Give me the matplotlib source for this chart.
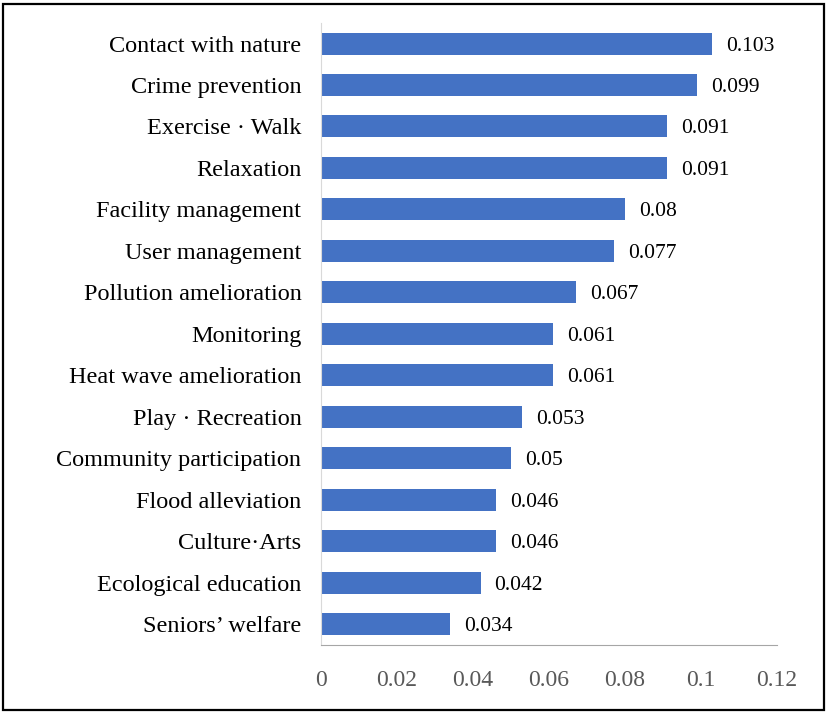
import matplotlib
matplotlib.use("Agg")
from matplotlib import pyplot as plt
from matplotlib.patches import Rectangle

categories = [
    "Contact with nature", "Crime prevention", "Exercise · Walk", "Relaxation",
    "Facility management", "User management", "Pollution amelioration",
    "Monitoring", "Heat wave amelioration", "Play · Recreation",
    "Community participation", "Flood alleviation", "Culture·Arts",
    "Ecological education", "Seniors’ welfare",
]
weights = [0.103, 0.099, 0.091, 0.091, 0.08, 0.077, 0.067, 0.061, 0.061,
           0.053, 0.05, 0.046, 0.046, 0.042, 0.034]
xticks = [0, 0.02, 0.04, 0.06, 0.08, 0.1, 0.12]
xticklabels = ["0", "0.02", "0.04", "0.06", "0.08", "0.1", "0.12"]

plt.rcParams["font.family"] = ["Liberation Serif", "DejaVu Serif"]

fig = plt.figure(figsize=(8.27, 7.14), dpi=100)
ax = fig.add_axes([0.388, 0.0966, 0.5516, 0.8715])

pos = list(range(len(categories)))
ax.barh(pos, weights, height=0.53, color="#4472C4")
for y, w in zip(pos, weights):
    ax.text(w + 0.0037, y, f"{w:g}", va="center_baseline", ha="left", fontsize=15.5)

ax.set_ylim(len(categories) - 0.5, -0.5)
ax.set_xlim(0, 0.12)
ax.set_yticks(pos)
ax.set_yticklabels(categories, fontsize=17.5)
ax.set_xticks(xticks)
ax.set_xticklabels(xticklabels, fontsize=17, color="#595959")
ax.tick_params(axis="both", length=0)
ax.tick_params(axis="x", pad=18)
ax.tick_params(axis="y", pad=14)
for side in ("top", "right"):
    ax.spines[side].set_visible(False)
ax.spines["left"].set_color("#d9d9d9")
ax.spines["bottom"].set_color("#a6a6a6")

fig.patches.append(Rectangle((0.004, 0.005), 0.992, 0.99, transform=fig.transFigure,
                             fill=False, edgecolor="black", linewidth=1.6))

fig.savefig("out.png", dpi=100)
